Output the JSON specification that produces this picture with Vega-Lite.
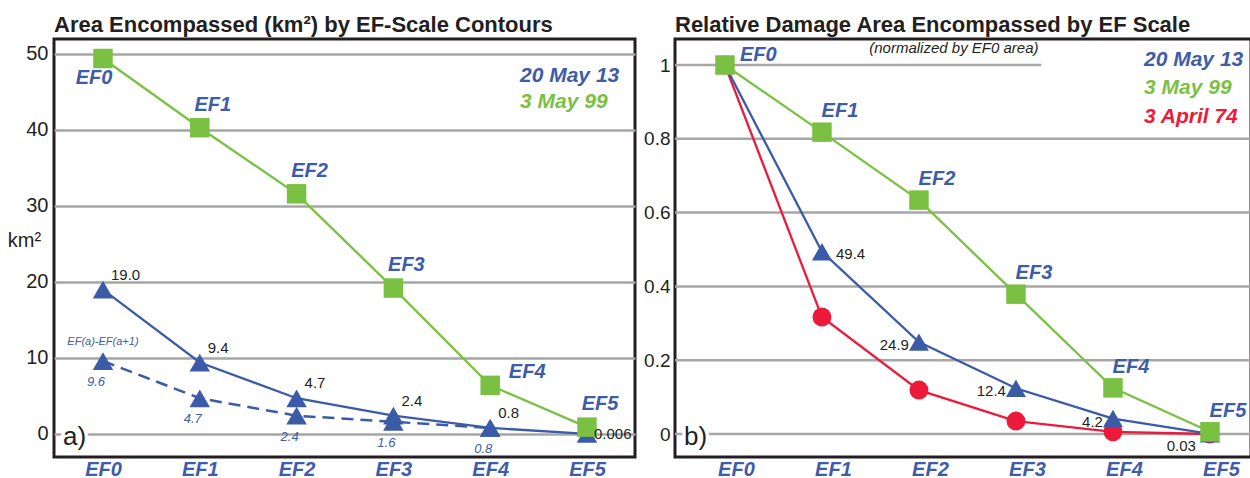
{
  "$schema": "https://vega.github.io/schema/vega-lite/v6.json",
  "padding": {"left": 5, "top": 12, "right": 0, "bottom": 0},
  "background": "white",
  "spacing": 40,
  "bounds": "flush",
  "config": {
    "font": "Liberation Sans",
    "view": {"stroke": "#231f20", "strokeWidth": 3},
    "axis": {"domain": false, "ticks": false, "labelFont": "Liberation Sans", "titleFont": "Liberation Sans"},
    "legend": {"labelFont": "Liberation Sans"}
  },
  "resolve": {
    "scale": {"color": "independent", "shape": "independent", "size": "independent", "x": "independent", "y": "independent"},
    "legend": {"color": "independent"}
  },
  "datasets": {
    "area": [
      {"event": "20 May 13", "level": 0, "ef": "EF0", "value": 19.0, "label": "19.0"},
      {"event": "20 May 13", "level": 1, "ef": "EF1", "value": 9.4, "label": "9.4"},
      {"event": "20 May 13", "level": 2, "ef": "EF2", "value": 4.7, "label": "4.7"},
      {"event": "20 May 13", "level": 3, "ef": "EF3", "value": 2.4, "label": "2.4"},
      {"event": "20 May 13", "level": 4, "ef": "EF4", "value": 0.8, "label": "0.8"},
      {"event": "20 May 13", "level": 5, "ef": "EF5", "value": 0.006, "label": "0.006"},
      {"event": "3 May 99", "level": 0, "ef": "EF0", "value": 49.4},
      {"event": "3 May 99", "level": 1, "ef": "EF1", "value": 40.3},
      {"event": "3 May 99", "level": 2, "ef": "EF2", "value": 31.6},
      {"event": "3 May 99", "level": 3, "ef": "EF3", "value": 19.2},
      {"event": "3 May 99", "level": 4, "ef": "EF4", "value": 6.4},
      {"event": "3 May 99", "level": 5, "ef": "EF5", "value": 0.9}
    ],
    "area_diff": [
      {"event": "20 May 13", "kind": "EF(a)-EF(a+1)", "level": 0, "value": 9.6, "label": "9.6"},
      {"event": "20 May 13", "kind": "EF(a)-EF(a+1)", "level": 1, "value": 4.7, "label": "4.7"},
      {"event": "20 May 13", "kind": "EF(a)-EF(a+1)", "level": 2, "value": 2.4, "label": "2.4"},
      {"event": "20 May 13", "kind": "EF(a)-EF(a+1)", "level": 3, "value": 1.6, "label": "1.6"},
      {"event": "20 May 13", "kind": "EF(a)-EF(a+1)", "level": 4, "value": 0.8, "label": "0.8"}
    ],
    "rel": [
      {"event": "3 April 74", "level": 0, "ef": "EF0", "value": 1.0},
      {"event": "3 April 74", "level": 1, "ef": "EF1", "value": 0.317},
      {"event": "3 April 74", "level": 2, "ef": "EF2", "value": 0.119},
      {"event": "3 April 74", "level": 3, "ef": "EF3", "value": 0.035},
      {"event": "3 April 74", "level": 4, "ef": "EF4", "value": 0.006},
      {"event": "3 April 74", "level": 5, "ef": "EF5", "value": 0.0},
      {"event": "20 May 13", "level": 0, "ef": "EF0", "value": 1.0},
      {"event": "20 May 13", "level": 1, "ef": "EF1", "value": 0.494, "label": "49.4"},
      {"event": "20 May 13", "level": 2, "ef": "EF2", "value": 0.249, "label": "24.9"},
      {"event": "20 May 13", "level": 3, "ef": "EF3", "value": 0.124, "label": "12.4"},
      {"event": "20 May 13", "level": 4, "ef": "EF4", "value": 0.042, "label": "4.2"},
      {"event": "20 May 13", "level": 5, "ef": "EF5", "value": 0.0003, "label": "0.03"},
      {"event": "3 May 99", "level": 0, "ef": "EF0", "value": 1.0},
      {"event": "3 May 99", "level": 1, "ef": "EF1", "value": 0.818},
      {"event": "3 May 99", "level": 2, "ef": "EF2", "value": 0.634},
      {"event": "3 May 99", "level": 3, "ef": "EF3", "value": 0.379},
      {"event": "3 May 99", "level": 4, "ef": "EF4", "value": 0.125},
      {"event": "3 May 99", "level": 5, "ef": "EF5", "value": 0.006}
    ],
    "rel_ticks": [{"tick": 0}, {"tick": 0.2}, {"tick": 0.4}, {"tick": 0.6}, {"tick": 0.8}],
    "notes": [
      {"panel_a": "a)", "panel_b": "b)", "note": "(normalized by EF0 area)"}
    ]
  },
  "hconcat": [
    {
      "width": 581,
      "height": 418,
      "title": {"text": "Area Encompassed (km²) by EF-Scale Contours", "anchor": "start", "frame": "group", "fontSize": 22, "fontWeight": "bold", "color": "#231f20", "offset": 2, "font": "Liberation Sans"},
      "layer": [
        {
          "data": {"name": "area"},
          "mark": {"type": "line", "strokeWidth": 2.3},
          "encoding": {
            "x": {"field": "level", "type": "quantitative",
              "scale": {"domain": [-0.506, 5.496], "nice": false, "zero": false},
              "axis": {"title": null, "values": [0, 1, 2, 3, 4, 5], "labelExpr": "'EF' + datum.value", "labelFontSize": 20, "labelFontWeight": "bold", "labelFontStyle": "italic", "labelColor": "#3d5ca9", "labelPadding": 2, "labelFlush": false, "labelOverlap": false, "grid": false}},
            "y": {"field": "value", "type": "quantitative",
              "scale": {"domain": [-3.03, 51.97], "nice": false, "zero": false},
              "axis": {"values": [0, 10, 20, 30, 40, 50], "grid": true, "gridColor": "#a6a6a6", "gridWidth": 2.5, "labelFontSize": 20, "labelColor": "#231f20", "labelPadding": 6, "labelFlush": false,
                "title": "km²", "titleAngle": 0, "titleX": -30, "titleY": 201, "titleAlign": "center", "titleBaseline": "middle", "titleFontSize": 20, "titleFontWeight": "normal", "titleColor": "#231f20"}},
            "color": {"field": "event", "type": "nominal",
              "scale": {"domain": ["20 May 13", "3 May 99"], "range": ["#3b5aa8", "#7ac143"]},
              "legend": {"title": null, "orient": "none", "legendX": 445, "legendY": 26, "symbolSize": 0, "symbolStrokeWidth": 0, "symbolOpacity": 0, "labelOffset": 0, "labelFontSize": 21, "labelFontWeight": "bold", "labelFontStyle": "italic", "rowPadding": 4,
                "labelColor": {"expr": "datum.label === '20 May 13' ? '#3d5ca9' : datum.label === '3 May 99' ? '#7ac143' : '#ec1b3b'"}}}
          }
        },
        {
          "data": {"name": "area_diff"},
          "mark": {"type": "line", "strokeWidth": 2.5, "strokeDash": [12, 7], "color": "#3b5aa8"},
          "encoding": {"x": {"field": "level", "type": "quantitative"}, "y": {"field": "value", "type": "quantitative"}}
        },
        {
          "data": {"name": "area_diff"},
          "mark": {"type": "point", "filled": true, "opacity": 1, "shape": "triangle-up", "size": 420, "color": "#3b5aa8"},
          "encoding": {"x": {"field": "level", "type": "quantitative"}, "y": {"field": "value", "type": "quantitative"}}
        },
        {
          "data": {"name": "area"},
          "mark": {"type": "point", "filled": true, "opacity": 1},
          "encoding": {
            "x": {"field": "level", "type": "quantitative"}, "y": {"field": "value", "type": "quantitative"},
            "color": {"field": "event", "type": "nominal", "legend": null},
            "shape": {"field": "event", "type": "nominal", "scale": {"domain": ["20 May 13", "3 May 99"], "range": ["triangle-up", "square"]}, "legend": null},
            "size": {"field": "event", "type": "nominal", "scale": {"domain": ["20 May 13", "3 May 99"], "range": [420, 380]}, "legend": null}
          }
        },
        {
          "data": {"name": "area"},
          "transform": [{"filter": "datum.event === '3 May 99' && datum.level !== 0 && datum.level !== 4"}],
          "mark": {"type": "text", "dx": 13, "dy": -23, "align": "center", "baseline": "middle", "fontSize": 20, "fontWeight": "bold", "fontStyle": "italic", "color": "#3d5ca9"},
          "encoding": {"x": {"field": "level", "type": "quantitative"}, "y": {"field": "value", "type": "quantitative"}, "text": {"field": "ef"}}
        },
        {
          "data": {"name": "area"},
          "transform": [{"filter": "datum.event === '3 May 99' && datum.level === 0"}],
          "mark": {"type": "text", "dx": -9, "dy": 19, "align": "center", "baseline": "middle", "fontSize": 20, "fontWeight": "bold", "fontStyle": "italic", "color": "#3d5ca9"},
          "encoding": {"x": {"field": "level", "type": "quantitative"}, "y": {"field": "value", "type": "quantitative"}, "text": {"field": "ef"}}
        },
        {
          "data": {"name": "area"},
          "transform": [{"filter": "datum.event === '3 May 99' && datum.level === 4"}],
          "mark": {"type": "text", "dx": 37, "dy": -13, "align": "center", "baseline": "middle", "fontSize": 20, "fontWeight": "bold", "fontStyle": "italic", "color": "#3d5ca9"},
          "encoding": {"x": {"field": "level", "type": "quantitative"}, "y": {"field": "value", "type": "quantitative"}, "text": {"field": "ef"}}
        },
        {
          "data": {"name": "area"},
          "transform": [{"filter": "datum.event === '20 May 13' && datum.level < 5"}],
          "mark": {"type": "text", "dx": 8, "dy": -15, "align": "left", "baseline": "middle", "fontSize": 15, "color": "#231f20"},
          "encoding": {"x": {"field": "level", "type": "quantitative"}, "y": {"field": "value", "type": "quantitative"}, "text": {"field": "label"}}
        },
        {
          "data": {"name": "area"},
          "transform": [{"filter": "datum.event === '20 May 13' && datum.level === 5"}],
          "mark": {"type": "text", "dx": 7, "dy": 0, "align": "left", "baseline": "middle", "fontSize": 15, "color": "#231f20"},
          "encoding": {"x": {"field": "level", "type": "quantitative"}, "y": {"field": "value", "type": "quantitative"}, "text": {"field": "label"}}
        },
        {
          "data": {"name": "area_diff"},
          "mark": {"type": "text", "dx": -7, "dy": 21, "align": "center", "baseline": "middle", "fontSize": 13, "fontStyle": "italic", "color": "#3d5ca9"},
          "encoding": {"x": {"field": "level", "type": "quantitative"}, "y": {"field": "value", "type": "quantitative"}, "text": {"field": "label"}}
        },
        {
          "data": {"name": "area_diff"},
          "transform": [{"filter": "datum.level === 0"}],
          "mark": {"type": "text", "dx": 0, "dy": -19, "align": "center", "baseline": "middle", "fontSize": 11, "fontStyle": "italic", "color": "#3d5ca9"},
          "encoding": {"x": {"field": "level", "type": "quantitative"}, "y": {"field": "value", "type": "quantitative"}, "text": {"field": "kind"}}
        },
        {
          "data": {"name": "notes"},
          "mark": {"type": "text", "align": "left", "baseline": "middle", "dx": 9, "dy": 3, "fontSize": 26, "color": "white", "stroke": "white", "strokeWidth": 7},
          "encoding": {"x": {"datum": -0.506}, "y": {"datum": 0}, "text": {"field": "panel_a"}}
        },
        {
          "data": {"name": "notes"},
          "mark": {"type": "text", "align": "left", "baseline": "middle", "dx": 9, "dy": 3, "fontSize": 26, "color": "#231f20"},
          "encoding": {"x": {"datum": -0.506}, "y": {"datum": 0}, "text": {"field": "panel_a"}}
        }
      ]
    },
    {
      "width": 576,
      "height": 418,
      "title": {"text": "Relative Damage Area Encompassed by EF Scale", "anchor": "start", "frame": "group", "fontSize": 22, "fontWeight": "bold", "color": "#231f20", "offset": 2, "font": "Liberation Sans"},
      "layer": [
        {
          "data": {"name": "rel_ticks"},
          "mark": {"type": "rule", "color": "#a6a6a6", "strokeWidth": 2.5},
          "encoding": {"y": {"field": "tick", "type": "quantitative"}}
        },
        {
          "data": {"name": "notes"},
          "mark": {"type": "rule", "color": "#a6a6a6", "strokeWidth": 2.5},
          "encoding": {"y": {"datum": 1}, "x": {"datum": -0.515}, "x2": {"datum": 3.26}}
        },
        {
          "data": {"name": "rel"},
          "mark": {"type": "line", "strokeWidth": 2.3},
          "encoding": {
            "x": {"field": "level", "type": "quantitative",
              "scale": {"domain": [-0.515, 5.423], "nice": false, "zero": false},
              "axis": {"title": null, "values": [0, 1, 2, 3, 4, 5], "labelExpr": "'EF' + datum.value", "labelFontSize": 20, "labelFontWeight": "bold", "labelFontStyle": "italic", "labelColor": "#3d5ca9", "labelPadding": 2, "labelOffset": 11, "labelFlush": false, "labelOverlap": false, "grid": false}},
            "y": {"field": "value", "type": "quantitative",
              "scale": {"domain": [-0.0623, 1.0705], "nice": false, "zero": false},
              "axis": {"title": null, "values": [0, 0.2, 0.4, 0.6, 0.8, 1], "format": "~g", "grid": false,
                "labelFontSize": 19, "labelColor": "#231f20", "labelPadding": 5, "labelFlush": false}},
            "color": {"field": "event", "type": "nominal",
              "scale": {"domain": ["20 May 13", "3 May 99", "3 April 74"], "range": ["#3b5aa8", "#7ac143", "#ec1b3b"]},
              "legend": {"title": null, "orient": "none", "legendX": 448, "legendY": 10, "symbolSize": 0, "symbolStrokeWidth": 0, "symbolOpacity": 0, "labelOffset": 0, "labelFontSize": 21, "labelFontWeight": "bold", "labelFontStyle": "italic", "rowPadding": 6.5,
                "labelColor": {"expr": "datum.label === '20 May 13' ? '#3d5ca9' : datum.label === '3 May 99' ? '#7ac143' : '#ec1b3b'"}}}
          }
        },
        {
          "data": {"name": "rel"},
          "mark": {"type": "point", "filled": true, "opacity": 1},
          "encoding": {
            "x": {"field": "level", "type": "quantitative"}, "y": {"field": "value", "type": "quantitative"},
            "color": {"field": "event", "type": "nominal", "legend": null},
            "shape": {"field": "event", "type": "nominal", "scale": {"domain": ["20 May 13", "3 May 99", "3 April 74"], "range": ["triangle-up", "square", "circle"]}, "legend": null},
            "size": {"field": "event", "type": "nominal", "scale": {"domain": ["20 May 13", "3 May 99", "3 April 74"], "range": [400, 360, 540]}, "legend": null}
          }
        },
        {
          "data": {"name": "rel"},
          "transform": [{"filter": "datum.event === '3 May 99' && datum.level > 0"}],
          "mark": {"type": "text", "dx": 18, "dy": -21, "align": "center", "baseline": "middle", "fontSize": 20, "fontWeight": "bold", "fontStyle": "italic", "color": "#3d5ca9"},
          "encoding": {"x": {"field": "level", "type": "quantitative"}, "y": {"field": "value", "type": "quantitative"}, "text": {"field": "ef"}}
        },
        {
          "data": {"name": "rel"},
          "transform": [{"filter": "datum.event === '3 May 99' && datum.level === 0"}],
          "mark": {"type": "text", "dx": 15, "dy": -10, "align": "left", "baseline": "middle", "fontSize": 20, "fontWeight": "bold", "fontStyle": "italic", "color": "#3d5ca9"},
          "encoding": {"x": {"field": "level", "type": "quantitative"}, "y": {"field": "value", "type": "quantitative"}, "text": {"field": "ef"}}
        },
        {
          "data": {"name": "rel"},
          "transform": [{"filter": "datum.event === '20 May 13' && datum.level === 1"}],
          "mark": {"type": "text", "dx": 14, "dy": 2, "align": "left", "baseline": "middle", "fontSize": 15, "color": "#231f20"},
          "encoding": {"x": {"field": "level", "type": "quantitative"}, "y": {"field": "value", "type": "quantitative"}, "text": {"field": "label"}}
        },
        {
          "data": {"name": "rel"},
          "transform": [{"filter": "datum.event === '20 May 13' && datum.level >= 2 && datum.level <= 4"}],
          "mark": {"type": "text", "dx": -10, "dy": 3, "align": "right", "baseline": "middle", "fontSize": 15, "color": "#231f20"},
          "encoding": {"x": {"field": "level", "type": "quantitative"}, "y": {"field": "value", "type": "quantitative"}, "text": {"field": "label"}}
        },
        {
          "data": {"name": "rel"},
          "transform": [{"filter": "datum.event === '20 May 13' && datum.level === 5"}],
          "mark": {"type": "text", "dx": -14, "dy": 12, "align": "right", "baseline": "middle", "fontSize": 15, "color": "#231f20"},
          "encoding": {"x": {"field": "level", "type": "quantitative"}, "y": {"field": "value", "type": "quantitative"}, "text": {"field": "label"}}
        },
        {
          "data": {"name": "notes"},
          "mark": {"type": "text", "align": "center", "baseline": "middle", "dy": -17, "fontSize": 15, "fontStyle": "italic", "color": "#231f20"},
          "encoding": {"x": {"datum": 2.36}, "y": {"datum": 1}, "text": {"field": "note"}}
        },
        {
          "data": {"name": "notes"},
          "mark": {"type": "text", "align": "left", "baseline": "middle", "dx": 9, "dy": 3, "fontSize": 26, "color": "white", "stroke": "white", "strokeWidth": 7},
          "encoding": {"x": {"datum": -0.515}, "y": {"datum": 0}, "text": {"field": "panel_b"}}
        },
        {
          "data": {"name": "notes"},
          "mark": {"type": "text", "align": "left", "baseline": "middle", "dx": 9, "dy": 3, "fontSize": 26, "color": "#231f20"},
          "encoding": {"x": {"datum": -0.515}, "y": {"datum": 0}, "text": {"field": "panel_b"}}
        }
      ]
    }
  ]
}
